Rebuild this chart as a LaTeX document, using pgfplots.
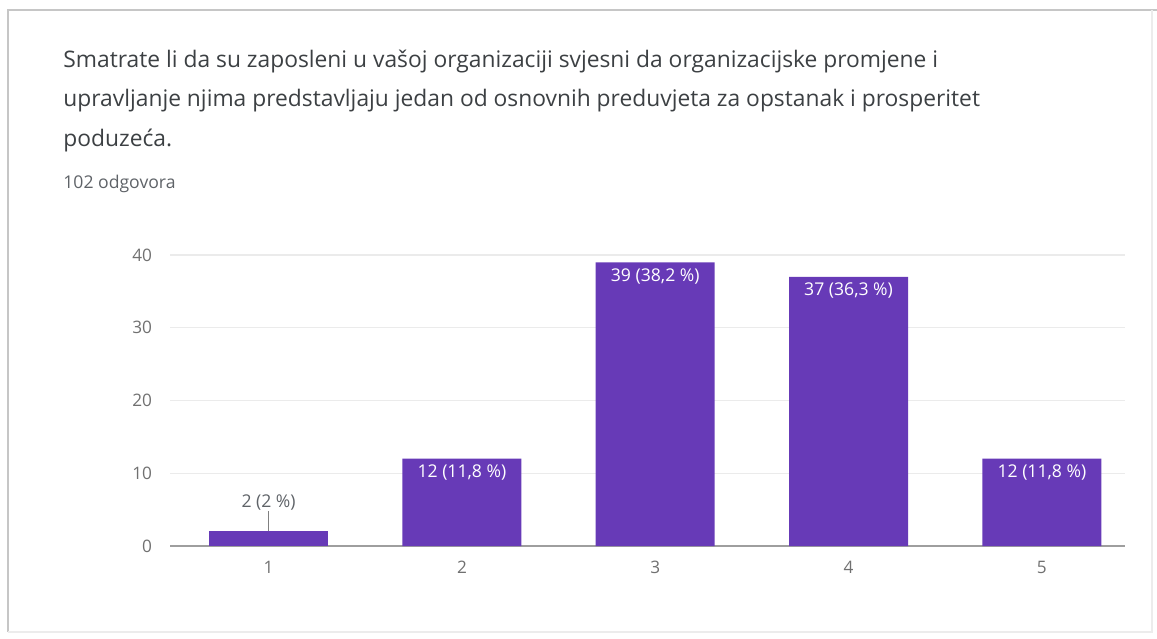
\documentclass[border=0pt]{standalone}
\usepackage{fontspec}
\setmainfont{Open Sans}
\usepackage{pgfplots}
\pgfplotsset{compat=1.18}
\usepackage{pgfplotstable}

\definecolor{barpurple}{HTML}{673AB7}
\definecolor{titlegray}{HTML}{3C4043}
\definecolor{subgray}{HTML}{5F6368}
\definecolor{tickgray}{HTML}{707070}
\definecolor{gridgray}{HTML}{EBEBEB}
\definecolor{axisgray}{HTML}{9E9E9E}

% odgovori po ocjeni
\pgfplotstableread{
x y label
2 12 {12 (11,8 \%)}
3 39 {39 (38,2 \%)}
4 37 {37 (36,3 \%)}
5 12 {12 (11,8 \%)}
}\inbars
\pgfplotstableread{
x y err label
1 2 2.75 {2 (2 \%)}
}\smallbar

\begin{document}
\begin{tikzpicture}
\path[use as bounding box] (0,0) rectangle (578.5pt,319pt);
% okvir kartice
\draw[color=gray!45, line width=1pt] (4pt,3pt) -- (4pt,314pt) -- (578.5pt,314pt);
\draw[color=gray!15, line width=0.8pt] (4pt,3pt) -- (576pt,3pt) -- (576pt,314pt);

\node[anchor=base west, font=\fontsize{11.4pt}{13pt}\selectfont, text=titlegray, inner sep=0pt]
  at (31.5pt,285pt) {Smatrate li da su zaposleni u vašoj organizaciji svjesni da organizacijske promjene i};
\node[anchor=base west, font=\fontsize{11.4pt}{13pt}\selectfont, text=titlegray, inner sep=0pt]
  at (31.5pt,265.5pt) {upravljanje njima predstavljaju jedan od osnovnih preduvjeta za opstanak i prosperitet};
\node[anchor=base west, font=\fontsize{11.4pt}{13pt}\selectfont, text=titlegray, inner sep=0pt]
  at (31.5pt,245.5pt) {poduzeća.};
\node[anchor=base west, font=\fontsize{8.8pt}{10pt}\selectfont, text=subgray, inner sep=0pt]
  at (31.5pt,224.5pt) {102 odgovora};

\begin{axis}[
    scale only axis,
    width=477.5pt, height=145.5pt,
    at={(85pt,46pt)}, anchor=south west,
    xmin=0.49, xmax=5.43,
    ymin=0, ymax=40,
    xtick={1,2,3,4,5},
    ytick={10,20,30,40},
    extra y ticks={0},
    extra y tick style={grid style={color=axisgray, line width=1.2pt}},
    ymajorgrids=true,
    grid style={color=gridgray, line width=0.6pt},
    axis line style={draw=none},
    major tick length=0pt,
    tick style={draw=none},
    /pgf/number format/assume math mode=true,
    tick label style={font=\fontsize{8.6pt}{10pt}\selectfont, text=tickgray},
    xticklabel style={yshift=-4pt},
    yticklabel style={xshift=-5.5pt},
    clip=false,
]
\addplot[ybar, bar width=59.5pt, bar shift=0pt, fill=barpurple, draw=none,
    point meta=explicit symbolic,
    nodes near coords,
    every node near coord/.style={anchor=center, yshift=-7pt, text=white,
        font=\fontsize{8.8pt}{10pt}\selectfont},
] table[x=x, y=y, meta=label] {\inbars};
\addplot[ybar, bar width=59.5pt, bar shift=0pt, fill=barpurple, draw=none,
    point meta=explicit symbolic,
    nodes near coords,
    every node near coord/.style={anchor=center, yshift=14.25pt, text=subgray,
        font=\fontsize{8.8pt}{10pt}\selectfont},
    error bars/.cd, y dir=plus, y explicit,
    error mark=none,
    error bar style={color=gray, line width=0.5pt},
] table[x=x, y=y, y error=err, meta=label] {\smallbar};
\end{axis}
\end{tikzpicture}
\end{document}
